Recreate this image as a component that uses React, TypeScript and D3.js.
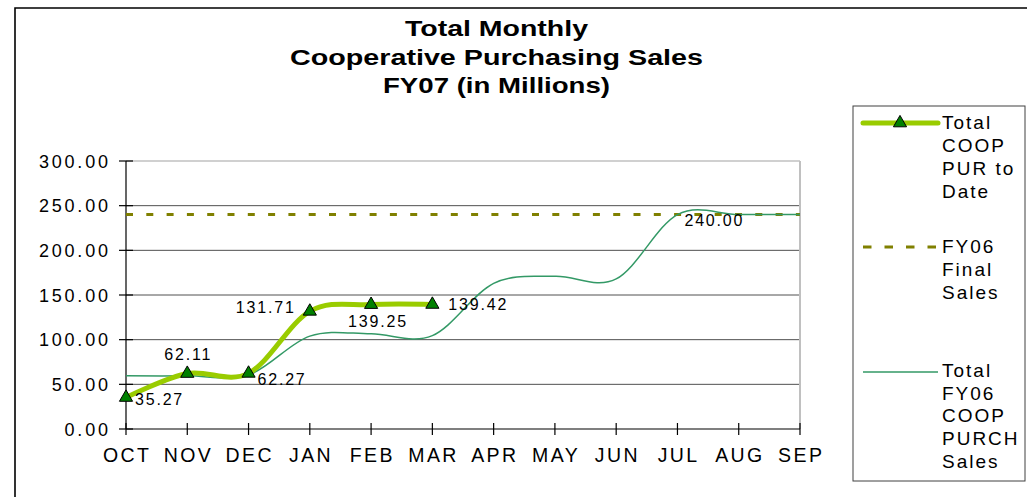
import React from 'react';
import * as d3 from 'd3';

// ---- data ----
const months = ['OCT', 'NOV', 'DEC', 'JAN', 'FEB', 'MAR', 'APR', 'MAY', 'JUN', 'JUL', 'AUG', 'SEP'];
const coopToDate = [35.27, 62.11, 62.27, 131.71, 139.25, 139.42];
const fy06Final = [240, 240, 240, 240, 240, 240, 240, 240, 240, 240, 240, 240];
const fy06Purch = [59.5, 59.5, 60.5, 104, 106.5, 104.5, 163, 171, 168, 240, 240, 240];
const yTicks = [0, 50, 100, 150, 200, 250, 300];
const titleLines = ['Total Monthly', 'Cooperative Purchasing Sales', 'FY07 (in Millions)'];
const legendCoop = ['Total', 'COOP', 'PUR to', 'Date'];
const legendFinal = ['FY06', 'Final', 'Sales'];
const legendPurch = ['Total', 'FY06', 'COOP', 'PURCH', 'Sales'];
const finalLabelIndex = 9;

// ---- layout / style ----
const W = 1027, H = 497;
const X0 = 126, X1 = 800, Y0 = 429, Y1 = 161;
const FONT = '"Liberation Sans", Arial, sans-serif';
const GREEN = '#99cc00';
const OLIVE = '#808000';
const TEAL = '#339966';
const MARKER = '#008000';

const coopLabelPlacement = [
  { dx: 9, dy: 8, anchor: 'start' },
  { dx: 0, dy: -13.5, anchor: 'middle' },
  { dx: 9, dy: 11.6, anchor: 'start' },
  { dx: -16, dy: 2, anchor: 'end' },
  { dx: 6, dy: 22, anchor: 'middle' },
  { dx: 16, dy: 5.5, anchor: 'start' },
];
const titleWidths = [183, 413, 227];
const titleBaselines = [36, 64.5, 93];

export default function App() {
  const x = d3.scalePoint<string>().domain(months).range([X0, X1]);
  const y = d3.scaleLinear().domain([0, 300]).range([Y0, Y1]);

  const line = d3
    .line<number>()
    .x((_, i) => x(months[i]) as number)
    .y((d) => y(d))
    .curve(d3.curveCardinal.tension(0));
  const straight = d3
    .line<number>()
    .x((_, i) => x(months[i]) as number)
    .y((d) => y(d));

  const tri = d3.symbol(d3.symbolTriangle, 75)() as string;
  const LS = 1.8;
  const adj = (a: string, ls: number) => (a === 'end' ? ls : a === 'middle' ? ls / 2 : 0);

  const legX0 = 863, legX1 = 938, legTX = 942;

  return (
    <svg width={W} height={H} style={{ position: 'absolute', left: 0, top: 0, background: '#fff' }} fontFamily={FONT}>
      <rect x={0} y={0} width={W} height={H} fill="#fff" />
      {/* outer frame */}
      <path d={`M15,${H + 5} L15,8 L${W + 5},8`} fill="none" stroke="#000" strokeWidth={1.6} />

      {/* title */}
      {titleLines.map((t, i) => (
        <text
          key={t}
          x={496.5}
          y={titleBaselines[i]}
          textAnchor="middle"
          fontWeight="bold"
          fontSize={21.5}
          textLength={titleWidths[i]}
          lengthAdjust="spacingAndGlyphs"
          fill="#000"
        >
          {t}
        </text>
      ))}

      {/* grid */}
      {yTicks.filter((t) => t > 0 && t < 300).map((t) => (
        <line key={t} x1={X0} x2={X1} y1={y(t)} y2={y(t)} stroke="#505050" strokeWidth={1} />
      ))}
      <line x1={X0} x2={X1} y1={y(300)} y2={y(300)} stroke="#c0c0c0" strokeWidth={1.5} />
      <line x1={X1} x2={X1} y1={y(300)} y2={Y0} stroke="#c0c0c0" strokeWidth={2} />

      {/* y axis */}
      <line x1={X0} x2={X0} y1={y(300)} y2={Y0} stroke="#000" strokeWidth={1.2} />
      {yTicks.map((t) => (
        <g key={t}>
          <line x1={X0 - 7} x2={X0 + 7} y1={y(t)} y2={y(t)} stroke="#000" strokeWidth={1.2} />
          <text x={108 + 2.8} y={y(t) + 6.5} textAnchor="end" fontSize={18} letterSpacing={2.8} fill="#000">
            {t.toFixed(2)}
          </text>
        </g>
      ))}

      {/* x axis */}
      <line x1={X0} x2={X1} y1={Y0} y2={Y0} stroke="#000" strokeWidth={1.2} />
      {months.map((m) => (
        <g key={m}>
          <line x1={x(m)} x2={x(m)} y1={Y0 - 6} y2={Y0 + 6} stroke="#000" strokeWidth={1.2} />
          <text x={(x(m) as number) + 1.2} y={461.5} textAnchor="middle" fontSize={19.5} letterSpacing={2.4} fill="#000">
            {m}
          </text>
        </g>
      ))}

      {/* FY06 final dashed */}
      <path d={straight(fy06Final) as string} fill="none" stroke={OLIVE} strokeWidth={3} strokeDasharray="7 13.3" />

      {/* FY06 purch */}
      <path d={line(fy06Purch) as string} fill="none" stroke={TEAL} strokeWidth={1.5} />

      {/* coop to date */}
      <path d={line(coopToDate) as string} fill="none" stroke={GREEN} strokeWidth={5} strokeLinecap="round" />
      {coopToDate.map((v, i) => (
        <path
          key={i}
          d={tri}
          transform={`translate(${x(months[i])},${y(v)})`}
          fill={MARKER}
          stroke="#000"
          strokeWidth={1}
        />
      ))}

      {/* data labels */}
      {coopToDate.map((v, i) => {
        const p = coopLabelPlacement[i];
        return (
          <text
            key={i}
            x={(x(months[i]) as number) + p.dx + adj(p.anchor, LS)}
            y={y(v) + p.dy}
            textAnchor={p.anchor as any}
            fontSize={16}
            letterSpacing={LS}
            fill="#000"
          >
            {v.toFixed(2)}
          </text>
        );
      })}
      <text
        x={(x(months[finalLabelIndex]) as number) + 7}
        y={y(fy06Final[finalLabelIndex]) + 11.5}
        fontSize={16}
        letterSpacing={LS}
        fill="#000"
      >
        {fy06Final[finalLabelIndex].toFixed(2)}
      </text>

      {/* legend */}
      <rect x={853} y={106} width={172} height={375} fill="#fff" stroke="#404040" strokeWidth={1} />
      <line x1={legX0} x2={legX1} y1={123} y2={123} stroke={GREEN} strokeWidth={5} strokeLinecap="round" />
      <path d={tri} transform="translate(900,123)" fill={MARKER} stroke="#000" strokeWidth={1} />
      {legendCoop.map((t, i) => (
        <text key={t} x={legTX} y={128.5 + i * 23} fontSize={19} letterSpacing={2} fill="#000">
          {t}
        </text>
      ))}
      <line x1={legX0} x2={legX1} y1={247} y2={247} stroke={OLIVE} strokeWidth={3} strokeDasharray="8.5 13" />
      {legendFinal.map((t, i) => (
        <text key={t + i} x={legTX} y={253 + i * 23} fontSize={19} letterSpacing={2} fill="#000">
          {t}
        </text>
      ))}
      <line x1={legX0} x2={legX1} y1={372} y2={372} stroke={TEAL} strokeWidth={1.5} />
      {legendPurch.map((t, i) => (
        <text key={t + i} x={legTX} y={377 + i * 22.7} fontSize={19} letterSpacing={2} fill="#000">
          {t}
        </text>
      ))}
    </svg>
  );
}
